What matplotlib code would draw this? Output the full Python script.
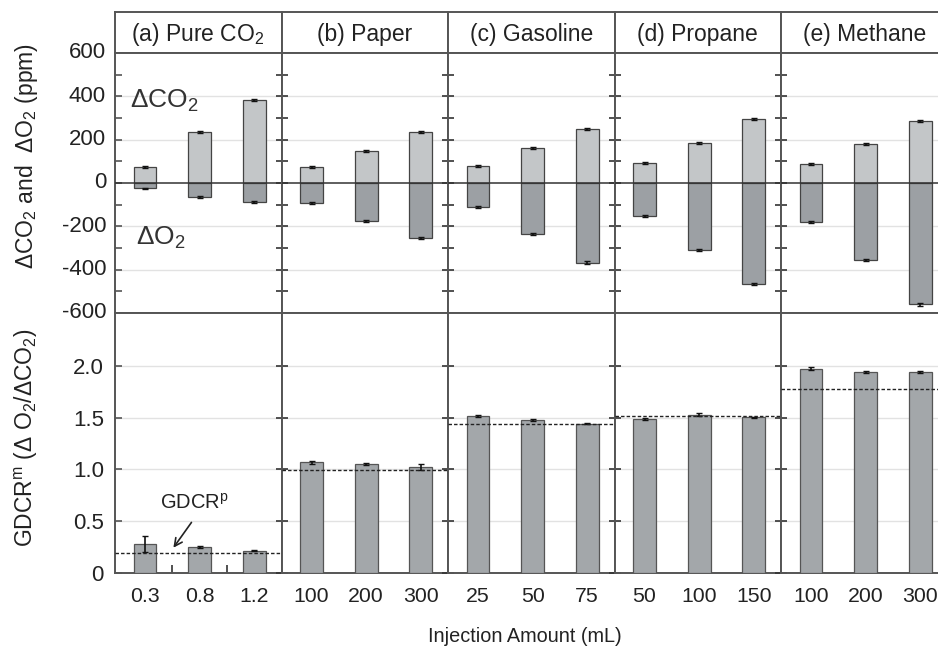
import matplotlib
matplotlib.use('Agg')
import matplotlib.pyplot as plt
import numpy as np

plt.rcParams['font.family'] = ['Liberation Sans', 'DejaVu Sans']
plt.rcParams['axes.unicode_minus'] = False
plt.rcParams['mathtext.fontset'] = 'custom'
plt.rcParams['mathtext.rm'] = 'Liberation Sans'
plt.rcParams['mathtext.it'] = 'Liberation Sans'

# ---- data ----
panel_titles = ['(a) Pure CO$_2$', '(b) Paper', '(c) Gasoline', '(d) Propane', '(e) Methane']
injection_labels = [['0.3', '0.8', '1.2'], ['100', '200', '300'], ['25', '50', '75'],
                    ['50', '100', '150'], ['100', '200', '300']]

delta_co2 = [[75, 234, 383], [75, 149, 234], [78, 162, 251], [92, 186, 294], [86, 179, 286]]
delta_o2 = [[-25, -66, -89], [-91, -174, -254], [-110, -237, -367],
            [-152, -309, -468], [-179, -357, -560]]
delta_err = [[4, 4, 4], [4, 4, 4], [4, 5, 5], [4, 5, 5], [5, 5, 6]]

gdcr_m = [[0.28, 0.25, 0.215], [1.067, 1.048, 1.023], [1.517, 1.473, 1.44],
          [1.486, 1.53, 1.505], [1.974, 1.942, 1.942]]
gdcr_err = [[0.08, 0.01, 0.005], [0.01, 0.01, 0.03], [0.01, 0.01, 0.005],
            [0.01, 0.01, 0.005], [0.01, 0.01, 0.01]]
gdcr_p = [0.193, 0.997, 1.44, 1.517, 1.78]

ppm_ticks = [600, 400, 200, 0, -200, -400, -600]
ratio_ticks = [0, 0.5, 1.0, 1.5, 2.0]
ratio_tick_labels = ['0', '0.5', '1.0', '1.5', '2.0']

# ---- layout (pixels of the 938x648 canvas) ----
W, H = 938, 648
fig = plt.figure(figsize=(W / 100, H / 100), dpi=100)

frame_col = '#555555'
text_col = '#222222'
light_col = '#c3c6c8'
dark_col = '#9ca0a4'
bar_col = '#a3a7aa'
grid_col = '#e2e2e2'

x0, pw = 115, 166.5
y_title_top, y_title_bot, y_mid, y_bot = 12, 53, 313, 573


def fy(y):
    return (H - y) / H


xs = np.arange(3)
for i in range(5):
    left = (x0 + i * pw) / W
    width = pw / W

    # title strip
    axt = fig.add_axes([left, fy(y_title_bot), width, (y_title_bot - y_title_top) / H])
    axt.set_xticks([])
    axt.set_yticks([])
    for s in axt.spines.values():
        s.set_color(frame_col)
        s.set_linewidth(1.4)
    axt.text(0.5, 0.45, panel_titles[i], ha='center', va='center', fontsize=16.5,
             color=text_col, transform=axt.transAxes)

    # top panel: delta CO2 (up) / delta O2 (down)
    ax1 = fig.add_axes([left, fy(y_mid), width, (y_mid - y_title_bot) / H])
    for g in [400, 200, -200, -400]:
        ax1.axhline(g, color=grid_col, linewidth=1.0, zorder=1)
    ax1.bar(xs, delta_co2[i], width=0.42, color=light_col, edgecolor='#444444', linewidth=0.9, zorder=3)
    ax1.bar(xs, delta_o2[i], width=0.42, color=dark_col, edgecolor='#444444', linewidth=0.9, zorder=3)
    ax1.errorbar(xs, delta_co2[i], yerr=delta_err[i], fmt='none', ecolor='#111111',
                 elinewidth=1.2, capsize=2, zorder=4)
    ax1.errorbar(xs, delta_o2[i], yerr=delta_err[i], fmt='none', ecolor='#111111',
                 elinewidth=1.2, capsize=2, zorder=4)
    ax1.axhline(0, color='#333333', linewidth=1.1, zorder=5)
    ax1.set_ylim(-600, 600)
    ax1.set_xlim(-0.55, 2.5)
    ax1.set_yticks(np.arange(-500, 600, 100))
    ax1.set_yticklabels([])
    ax1.set_xticks([])

    # bottom panel: GDCR^m
    ax2 = fig.add_axes([left, fy(y_bot), width, (y_bot - y_mid) / H])
    for g in [0.5, 1.0, 1.5, 2.0]:
        ax2.axhline(g, color=grid_col, linewidth=1.0, zorder=1)
    ax2.bar(xs, gdcr_m[i], width=0.42, color=bar_col, edgecolor='#555555', linewidth=0.9, zorder=3)
    ax2.errorbar(xs, gdcr_m[i], yerr=gdcr_err[i], fmt='none', ecolor='#111111',
                 elinewidth=1.2, capsize=2, zorder=4)
    ax2.axhline(gdcr_p[i], color='#222222', linewidth=1.0, linestyle=(0, (2.5, 1.5)), zorder=5)
    ax2.set_ylim(0, 2.51)
    ax2.set_xlim(-0.55, 2.5)
    ax2.set_yticks(ratio_ticks)
    ax2.set_yticklabels(ratio_tick_labels)
    ax2.set_xticks(xs)
    ax2.set_xticklabels(injection_labels[i], fontsize=15.3, color=text_col)
    ax2.tick_params(axis='x', length=0, pad=10)

    for ax in (ax1, ax2):
        for s in ax.spines.values():
            s.set_color(frame_col)
            s.set_linewidth(1.4)
        if i == 0:
            ax.tick_params(axis='y', direction='in', length=5, color=frame_col, width=1.2,
                           labelsize=16, labelcolor=text_col, pad=8)
        else:
            ax.tick_params(axis='y', direction='inout', length=8, color='#333333', width=1.2,
                           labelleft=False, right=(i == 4), left=True)

    if i == 0:
        for v in ppm_ticks:
            ax1.text(-0.054, (v + 600) / 1200, str(v), transform=ax1.transAxes,
                     ha='right', va='center', fontsize=16, color=text_col)
        ax2.set_xticks([0.5, 1.5], minor=True)
        ax2.tick_params(axis='x', which='minor', direction='in', length=6, width=1.2,
                        color='#333333')
        ax1.text(0.09, 0.815, r'$\Delta$CO$_2$', transform=ax1.transAxes, fontsize=19,
                 color='#333333', ha='left', va='center')
        ax1.text(0.125, 0.29, r'$\Delta$O$_2$', transform=ax1.transAxes, fontsize=19,
                 color='#333333', ha='left', va='center')
        ax2.text(0.9, 0.676, 'GDCR$^{\\rm p}$', fontsize=14.5, color=text_col,
                 ha='center', va='center')
        ax2.annotate('', xy=(0.49, 0.222), xytext=(0.88, 0.51),
                     arrowprops=dict(arrowstyle='->', color='#222222', lw=1.2,
                                     mutation_scale=14))

fig.text(26 / W, fy((40 + 272) / 2), r'$\Delta$CO$_2$ and  $\Delta$O$_2$ (ppm)', rotation=90,
         ha='center', va='center', fontsize=16.5, color=text_col)
fig.text(26 / W, fy((330 + 545) / 2), r'GDCR$^{\rm m}$ ($\Delta$ O$_2$/$\Delta$CO$_2$)',
         rotation=90, ha='center', va='center', fontsize=16.5, color=text_col)
fig.text(525 / W, fy(636), 'Injection Amount (mL)', ha='center', va='center',
         fontsize=14.3, color=text_col)

fig.savefig('out.png', dpi=100)
